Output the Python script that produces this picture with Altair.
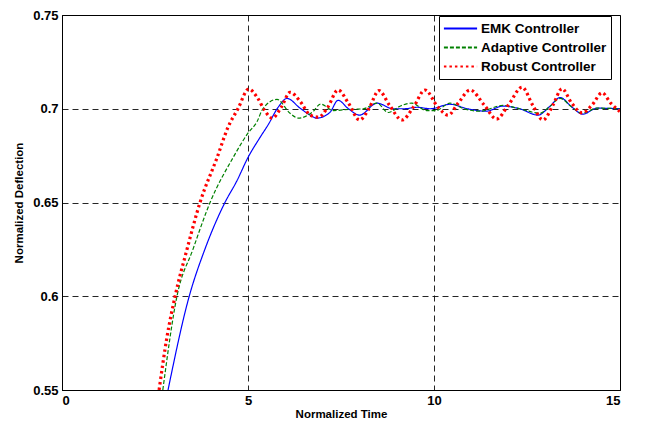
import altair as alt
import pandas as pd

FONT = "Liberation Sans"

series_names = ["EMK Controller", "Adaptive Controller", "Robust Controller"]
series_colors = ["#0000FF", "#008000", "#FF0000"]
series_dashes = [[1, 0], [4, 2], [2.5, 3]]

x_ticks = [0, 5, 10, 15]
y_ticks = [0.55, 0.6, 0.65, 0.7, 0.75]

emk_t = [2.85, 3.42, 3.84, 4.38, 4.70, 5.00, 5.32, 5.54, 5.81, 6.05, 6.40, 6.67,
         6.85, 7.20, 7.42, 7.70, 8.00, 8.47, 8.90, 9.20, 9.54, 9.90, 10.43, 10.90,
         11.40, 11.85, 12.30, 12.80, 13.10, 13.39, 13.70, 14.00, 14.38, 15.00]
emk_v = [0.550, 0.600, 0.625, 0.650, 0.6615, 0.674, 0.6846, 0.6914, 0.7008, 0.7055, 0.7003, 0.6966,
         0.695, 0.698, 0.7045, 0.700, 0.6966, 0.703, 0.700, 0.700, 0.7008, 0.700, 0.7024, 0.700,
         0.6987, 0.7014, 0.700, 0.6966, 0.701, 0.706, 0.701, 0.6971, 0.7003, 0.700]

adaptive_t = [2.71, 3.09, 3.52, 3.98, 4.60, 5.00, 5.24, 5.40, 5.78, 6.13, 6.35, 6.75,
              6.95, 7.30, 7.60, 8.10, 8.47, 8.77, 9.10, 9.40, 9.80, 10.05, 10.43, 10.80,
              11.24, 11.85, 12.30, 12.85, 13.10, 13.39, 13.70, 13.98, 14.38, 15.00]
adaptive_v = [0.550, 0.600, 0.625, 0.650, 0.674, 0.687, 0.693, 0.700, 0.705, 0.6976, 0.695, 0.6985,
              0.7025, 0.699, 0.6995, 0.700, 0.703, 0.698, 0.7015, 0.703, 0.699, 0.699, 0.703, 0.700,
              0.6987, 0.7018, 0.700, 0.6976, 0.701, 0.7055, 0.701, 0.6976, 0.7003, 0.700]

robust_t = [2.61, 2.82, 3.04, 3.36, 3.71, 4.17, 4.46, 4.73, 5.02, 5.25, 5.45, 5.65,
            5.90, 6.13, 6.40, 6.67, 6.90, 7.15, 7.42, 7.70, 8.00, 8.25, 8.52, 8.80,
            9.14, 9.45, 9.76, 10.10, 10.38, 10.65, 10.97, 11.35, 11.68, 12.00, 12.37, 12.65,
            12.93, 13.20, 13.44, 13.70, 13.98, 14.25, 14.52, 14.75, 15.00]
robust_v = [0.550, 0.578, 0.600, 0.625, 0.650, 0.674, 0.690, 0.700, 0.7105, 0.706, 0.699, 0.695,
            0.701, 0.7088, 0.704, 0.6966, 0.6955, 0.701, 0.710, 0.703, 0.694, 0.700, 0.7097, 0.702,
            0.694, 0.701, 0.710, 0.701, 0.6966, 0.703, 0.710, 0.702, 0.6945, 0.702, 0.7115, 0.702,
            0.694, 0.702, 0.7107, 0.703, 0.6978, 0.702, 0.7085, 0.703, 0.6985]

rows = []
for name, ts, vs in zip(series_names, [emk_t, adaptive_t, robust_t], [emk_v, adaptive_v, robust_v]):
    for t, v in zip(ts, vs):
        rows.append({"t": t, "v": v, "series": name})
df = pd.DataFrame(rows)

color_scale = alt.Scale(domain=series_names, range=series_colors)
dash_scale = alt.Scale(domain=series_names, range=series_dashes)

legend = alt.Legend(
    title=None, orient="none", legendX=377, legendY=1,
    symbolType="stroke", symbolSize=1100, symbolStrokeWidth=1.8,
    labelFont=FONT, labelFontSize=13.5,
    labelFontWeight="bold", labelColor="black", labelLimit=400, labelOffset=3,
    strokeColor="black", fillColor="white", padding=4, rowPadding=2, clipHeight=17,
)

chart = alt.Chart(df).mark_line(interpolate="monotone", clip=True, strokeCap="butt").encode(
    x=alt.X("t:Q", scale=alt.Scale(domain=[0, 15], nice=False),
            axis=alt.Axis(values=x_ticks, format="d", title="Normalized Time",
                          labelPadding=4, titlePadding=1)),
    y=alt.Y("v:Q", scale=alt.Scale(domain=[0.55, 0.75], nice=False, zero=False),
            axis=alt.Axis(values=y_ticks, format="~g", title="Normalized Deflection",
                          labelPadding=4, titlePadding=8)),
    color=alt.Color("series:N", scale=color_scale, legend=legend),
    strokeDash=alt.StrokeDash("series:N", scale=dash_scale, legend=legend),
    strokeWidth=alt.condition(alt.datum.series == "Robust Controller",
                              alt.value(3.2), alt.value(1.2)),
).properties(
    width=558, height=375,
    autosize=alt.AutoSizeParams(type="none"),
    padding={"left": 54, "top": 7, "right": 15, "bottom": 29},
).configure_view(
    stroke="black", strokeWidth=1
).configure_axis(
    domainColor="black", domainWidth=1, ticks=False,
    labelFont=FONT, labelFontSize=13, labelFontWeight="bold", labelColor="black",
    titleFont=FONT, titleFontSize=11.5, titleFontWeight="bold", titleColor="black",
    gridColor="black", gridDash=[6, 4], gridOpacity=0.85, gridWidth=1,
).configure_legend(cornerRadius=0)

chart.save("out.html", embed_options={"renderer": "svg", "actions": False})
